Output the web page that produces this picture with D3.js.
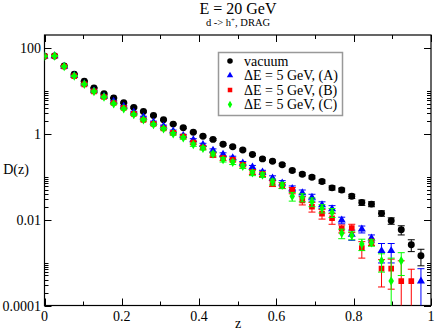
<!DOCTYPE html>
<html>
<head>
<style>
  body { margin: 0; background: #fff; }
  svg { display: block; font-family: "Liberation Serif", "Times New Roman", serif; }
</style>
</head>
<body>
<div id="chart"></div>
<script src="https://d3js.org/d3.v7.min.js"></script>
<script>
// z bins
const zValues = [0.000, 0.026, 0.051, 0.077, 0.103, 0.128, 0.154, 0.179, 0.205, 0.231,
                 0.256, 0.282, 0.308, 0.333, 0.359, 0.385, 0.410, 0.436, 0.462, 0.487,
                 0.513, 0.538, 0.564, 0.590, 0.615, 0.641, 0.667, 0.692, 0.718, 0.744,
                 0.769, 0.795, 0.821, 0.846, 0.872, 0.897, 0.923, 0.949, 0.974];

const vacuum = [64, 65, 38, 24.3, 16.7, 11.6, 8.6, 6.8, 5.3, 4.1,
                3.32, 2.68, 2.12, 1.68, 1.38, 1.09, 0.88, 0.74, 0.57, 0.50,
                0.42, 0.33, 0.26, 0.23, 0.19, 0.139, 0.114, 0.097, 0.077, 0.055,
                0.049, 0.035, 0.025, 0.023, 0.014, 0.0094, 0.0058, 0.0026, 0.00144];
const vacuumErr = [1.5, 1.5, 1.0, 0.7, 0.5, 0.35, 0.28, 0.22, 0.18, 0.15,
                   0.12, 0.1, 0.08, 0.07, 0.06, 0.05, 0.04, 0.035, 0.03, 0.026,
                   0.022, 0.018, 0.015, 0.014, 0.012, 0.01, 0.009, 0.008, 0.007, 0.006,
                   0.005, 0.004, 0.0035, 0.003, 0.002, 0.0016, 0.0014, 0.0008, 0.0006];

const dragA = [64, 65, 37, 22.5, 14.5, 10.0, 7.4, 5.7, 4.35, 3.2,
               2.44, 1.87, 1.51, 1.15, 0.91, 0.72, 0.56, 0.41, 0.33, 0.275,
               0.206, 0.166, 0.127, 0.093, 0.071, 0.053, 0.042, 0.033, 0.022, 0.0177,
               0.0097, 0.0045, 0.006, 0.0037, 0.00188, 0.00188, null, null, 0.00037];
const dragAErr = [1.5, 1.5, 1.0, 0.7, 0.5, 0.35, 0.28, 0.22, 0.18, 0.14,
                  0.12, 0.1, 0.08, 0.07, 0.06, 0.05, 0.04, 0.035, 0.03, 0.025,
                  0.02, 0.017, 0.014, 0.012, 0.01, 0.008, 0.007, 0.006, 0.004, 0.0035,
                  0.0017, 0.0012, 0.0011, 0.0007, 0.0009, 0.0009, 0, 0, 0.00035];

const dragB = [64, 65, 37, 22, 14.2, 9.7, 7.2, 5.2, 4.0, 2.9,
               2.1, 1.7, 1.33, 1.05, 0.86, 0.62, 0.48, 0.32, 0.27, 0.247,
               0.19, 0.13, 0.115, 0.071, 0.063, 0.048, 0.028, 0.020, 0.0138, 0.0108,
               0.0062, 0.0064, 0.00217, 0.003, 0.00072, 0.00072, 0.00037, 0.00037, null];
const dragBErr = [1.5, 1.5, 1.0, 0.7, 0.5, 0.35, 0.28, 0.22, 0.18, 0.14,
                  0.12, 0.1, 0.08, 0.07, 0.06, 0.05, 0.04, 0.035, 0.03, 0.025,
                  0.02, 0.017, 0.014, 0.012, 0.01, 0.008, 0.006, 0.005, 0.0035, 0.003,
                  0.0013, 0.0014, 0.0009, 0.0005, 0.00045, 0.00048, 0.00073, 0.00033, 0];

const dragC = [64, 65, 37, 22.2, 14.2, 9.7, 7.2, 5.0, 3.84, 2.8,
               2.12, 1.65, 1.31, 1.0, 0.81, 0.56, 0.46, 0.34, 0.25, 0.217,
               0.175, 0.123, 0.110, 0.076, 0.063, 0.035, 0.033, 0.026, 0.0183, 0.0147,
               0.0048, 0.0043, 0.0027, 0.0029, 0.0011, 0.00037, 0.0011, null, null];
const dragCErr = [1.5, 1.5, 1.0, 0.7, 0.5, 0.35, 0.28, 0.22, 0.18, 0.14,
                  0.12, 0.1, 0.08, 0.07, 0.06, 0.05, 0.04, 0.035, 0.03, 0.025,
                  0.02, 0.017, 0.014, 0.012, 0.01, 0.008, 0.007, 0.006, 0.004, 0.0035,
                  0.0012, 0.0009, 0.0008, 0.0005, 0.0005, 0.0009, 0.0006, 0, 0];

const xTicks = [0, 0.2, 0.4, 0.6, 0.8, 1];
const xTickLabels = ["0", "0.2", "0.4", "0.6", "0.8", "1"];
const xMinor = [0.1, 0.3, 0.5, 0.7, 0.9];
const yTicks = [100, 1, 0.01, 0.0001];
const yTickLabels = ["100", "1", "0.01", "0.0001"];

const series = [
  { name: "vacuum", vals: vacuum, errs: vacuumErr, color: "#000000", shape: "circle" },
  { name: "\u0394E = 5 GeV, (A)", vals: dragA, errs: dragAErr, color: "#0000ff", shape: "triangle" },
  { name: "\u0394E = 5 GeV, (B)", vals: dragB, errs: dragBErr, color: "#ff0000", shape: "square" },
  { name: "\u0394E = 5 GeV, (C)", vals: dragC, errs: dragCErr, color: "#00ff00", shape: "diamond" }
];

const width = 436, height = 332;
const plotL = 44.5, plotR = 431, plotT = 35, plotB = 305.5;

const svg = d3.select("#chart").append("svg")
  .attr("width", width).attr("height", height);

const x = d3.scaleLinear().domain([0, 1]).range([plotL, plotR]);
const y = d3.scaleLog().domain([1e-4, 200]).range([plotB, plotT]);

svg.append("defs").append("clipPath").attr("id", "plot")
  .append("rect").attr("x", plotL).attr("y", plotT)
  .attr("width", plotR - plotL).attr("height", plotB - plotT);

// titles
svg.append("text").attr("x", 238).attr("y", 14).attr("text-anchor", "middle")
  .attr("font-size", 16).text("E = 20 GeV");
const sub = svg.append("text").attr("x", 238).attr("y", 26).attr("text-anchor", "middle")
  .attr("font-size", 10.5);
sub.append("tspan").text("d -> h");
sub.append("tspan").attr("dy", -4).attr("font-size", 7).text("+");
sub.append("tspan").attr("dy", 4).text(", DRAG");

// axis labels
svg.append("text").attr("x", 16).attr("y", 174).attr("text-anchor", "middle")
  .attr("font-size", 14).text("D(z)");
svg.append("text").attr("x", 238).attr("y", 328).attr("text-anchor", "middle")
  .attr("font-size", 14).text("z");

// ticks
const tickG = svg.append("g").attr("stroke", "#000").attr("stroke-width", 1);
xTicks.forEach(t => {
  const px = Math.round(x(t)) + 0.5;
  tickG.append("line").attr("x1", px).attr("x2", px).attr("y1", plotB).attr("y2", plotB - 7);
  tickG.append("line").attr("x1", px).attr("x2", px).attr("y1", plotT).attr("y2", plotT + 7);
});
xMinor.forEach(t => {
  const px = Math.round(x(t)) + 0.5;
  tickG.append("line").attr("x1", px).attr("x2", px).attr("y1", plotB).attr("y2", plotB - 4);
  tickG.append("line").attr("x1", px).attr("x2", px).attr("y1", plotT).attr("y2", plotT + 4);
});
yTicks.forEach(t => {
  const py = Math.round(y(t)) + 0.5;
  tickG.append("line").attr("x1", plotL).attr("x2", plotL + 7).attr("y1", py).attr("y2", py);
  tickG.append("line").attr("x1", plotR).attr("x2", plotR - 7).attr("y1", py).attr("y2", py);
});
// minor log ticks: 2..10 times each major
yTicks.slice(1).forEach(base => {
  for (let m = 2; m <= 10; m++) {
    const py = Math.round(y(base * m)) + 0.5;
    tickG.append("line").attr("x1", plotL).attr("x2", plotL + 4).attr("y1", py).attr("y2", py);
    tickG.append("line").attr("x1", plotR).attr("x2", plotR - 4).attr("y1", py).attr("y2", py);
  }
});

xTicks.forEach((t, i) => {
  svg.append("text").attr("x", x(t)).attr("y", 321).attr("text-anchor", "middle")
    .attr("font-size", 14).text(xTickLabels[i]);
});
yTicks.forEach((t, i) => {
  svg.append("text").attr("x", 41).attr("y", y(t) + 5).attr("text-anchor", "end")
    .attr("font-size", 14).text(yTickLabels[i]);
});

// frame
svg.append("rect").attr("x", plotL).attr("y", plotT)
  .attr("width", plotR - plotL).attr("height", plotB - plotT)
  .attr("fill", "none").attr("stroke", "#000").attr("stroke-width", 1.2);

function symbolPath(shape) {
  if (shape === "circle") return d3.symbol(d3.symbolCircle, 38)();
  if (shape === "triangle") return d3.symbol(d3.symbolTriangle, 28)();
  if (shape === "square") return d3.symbol(d3.symbolSquare, 32)();
  return d3.symbol(d3.symbolDiamond, 26)();
}

const plot = svg.append("g").attr("clip-path", "url(#plot)");

series.forEach(s => {
  const pts = zValues.map((z, i) => ({ z: z, v: s.vals[i], e: s.errs[i] }))
    .filter(d => d.v != null);
  const g = plot.append("g");
  const cap = 3.5;
  pts.forEach(d => {
    const px = x(d.z);
    const yHi = y(d.v + d.e);
    const yLo = d.v - d.e > 1e-6 ? y(d.v - d.e) : plotB + 10;
    g.append("line").attr("x1", px).attr("x2", px).attr("y1", yHi).attr("y2", yLo)
      .attr("stroke", s.color).attr("stroke-width", 1);
    g.append("line").attr("x1", px - cap).attr("x2", px + cap).attr("y1", yHi).attr("y2", yHi)
      .attr("stroke", s.color).attr("stroke-width", 1);
    g.append("line").attr("x1", px - cap).attr("x2", px + cap).attr("y1", yLo).attr("y2", yLo)
      .attr("stroke", s.color).attr("stroke-width", 1);
  });
  g.selectAll("path").data(pts).enter().append("path")
    .attr("d", symbolPath(s.shape))
    .attr("transform", d => `translate(${x(d.z)},${y(d.v)})`)
    .attr("fill", s.color);
});

// legend
const legend = svg.append("g");
legend.append("rect").attr("x", 218.5).attr("y", 52.5).attr("width", 124).attr("height", 63)
  .attr("fill", "#fff").attr("stroke", "#999").attr("stroke-width", 1.5);
series.forEach((s, i) => {
  const ly = 61 + i * 14.5;
  legend.append("path").attr("d", symbolPath(s.shape))
    .attr("transform", `translate(230,${ly}) scale(0.8)`).attr("fill", s.color);
  legend.append("text").attr("x", 244).attr("y", ly + 4.5).attr("font-size", 14).text(s.name);
});
</script>
</body>
</html>
